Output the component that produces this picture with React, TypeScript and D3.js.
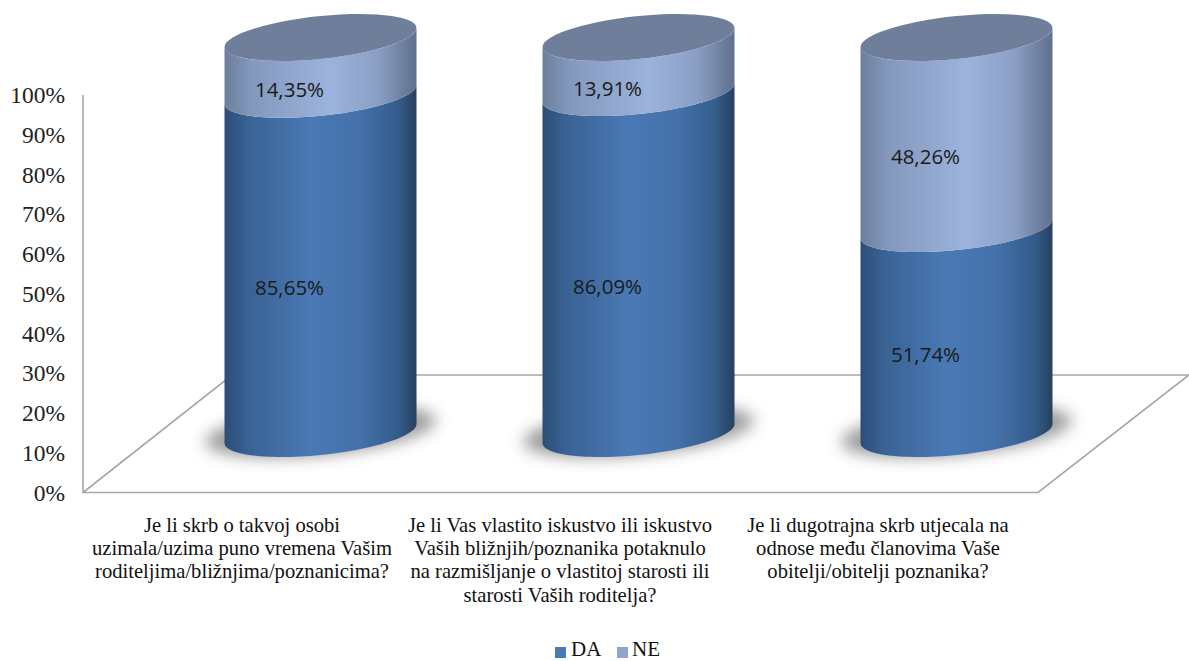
import React from "react";
import * as d3 from "d3";

const categories = ["q1", "q2", "q3"];
const categoryLines = [
  ["Je li skrb o takvoj osobi", "uzimala/uzima puno vremena Vašim", "roditeljima/bližnjima/poznanicima?"],
  ["Je li Vas vlastito iskustvo ili iskustvo", "Vaših bližnjih/poznanika potaknulo", "na razmišljanje o vlastitoj starosti ili", "starosti Vaših roditelja?"],
  ["Je li dugotrajna skrb utjecala na", "odnose među članovima Vaše", "obitelji/obitelji poznanika?"],
];
const da = [85.65, 86.09, 51.74];
const ne = [14.35, 13.91, 48.26];
const ticks = [0, 10, 20, 30, 40, 50, 60, 70, 80, 90, 100];
const fmt = (v: number) => v.toFixed(2).replace(".", ",") + "%";

const W = 1189, H = 661;
const cx = d3.scalePoint<string>().domain(categories).range([320.5, 956.5]);
const edgeY = d3.scaleLinear().domain([0, 100]).range([443, 47]);
const axisY = d3.scaleLinear().domain([0, 100]).range([492.5, 95]);
const R = 96, SK = 9.5, B = 21.5;

// point on the tilted rim whose left tangent point sits at (c-R, yLeft)
const rim = (c: number, yLeft: number, t: number): [number, number] => [
  c + R * Math.cos(t),
  yLeft - SK + B * Math.sin(t) - SK * Math.cos(t),
];
const arcPts = (c: number, yLeft: number, from: number, to: number) =>
  d3.range(0, 61).map((i) => rim(c, yLeft, from + ((to - from) * i) / 60));
const line = d3.line();

const bandPath = (c: number, yLow: number, yHigh: number) => {
  const low = arcPts(c, yLow, Math.PI, 0);
  const high = arcPts(c, yHigh, 0, Math.PI);
  return line([...low, ...high])! + "Z";
};
const capPath = (c: number, yLeft: number) => line(arcPts(c, yLeft, 0, Math.PI * 2))! + "Z";

const GRID = "#a6a6a6";

export default function App() {
  return (
    <svg width={W} height={H} style={{ position: "absolute", left: 0, top: 0, background: "#fff" }}>
      <defs>
        <linearGradient id="daG" x1="0" x2="1" y1="0" y2="0">
          <stop offset="0" stopColor="#2c4d77" />
          <stop offset="0.12" stopColor="#3a6294" />
          <stop offset="0.45" stopColor="#4a79b5" />
          <stop offset="0.7" stopColor="#4471aa" />
          <stop offset="0.9" stopColor="#345d8c" />
          <stop offset="1" stopColor="#27405f" />
        </linearGradient>
        <linearGradient id="neG" x1="0" x2="1" y1="0" y2="0">
          <stop offset="0" stopColor="#6c7e9b" />
          <stop offset="0.14" stopColor="#8398bd" />
          <stop offset="0.55" stopColor="#9cb3dc" />
          <stop offset="0.8" stopColor="#8b9fc5" />
          <stop offset="1" stopColor="#5f708c" />
        </linearGradient>
        <filter id="sh" x="-20%" y="-50%" width="140%" height="200%">
          <feGaussianBlur stdDeviation="6.5" />
        </filter>
      </defs>

      <g fill="none" stroke={GRID} strokeWidth={1.6}>
        <path d={line([[83, axisY(100)], [83, axisY(0)], [1038, axisY(0)], [1189, 375], [232, 375], [83, axisY(0)]])!} />
      </g>

      {ticks.map((t) => (
        <text key={t} x={65} y={axisY(t)} dy="0.35em" textAnchor="end"
          fontFamily="'Liberation Serif', serif" fontSize={23.5} fill="#222">{t}%</text>
      ))}

      {categories.map((k, i) => {
        const c = cx(k)!;
        const yDa = edgeY(da[i]);
        const yTop = edgeY(da[i] + ne[i]);
        return (
          <g key={k}>
            <path d={capPath(c, edgeY(0))} transform="translate(0,-2)" fill="#5a5a5a" opacity={0.6} filter="url(#sh)"
              style={{ transformBox: "fill-box", transformOrigin: "center", scale: "1.2 1.12" } as any} />
            <path d={bandPath(c, edgeY(0), yDa)} fill="url(#daG)" />
            <path d={bandPath(c, yDa, yTop)} fill="url(#neG)" />
            <path d={capPath(c, yTop)} fill="#6f7f9b" />
            <text x={c - 31} y={(edgeY(0) + yDa) / 2 + 14} dy="0.35em" textAnchor="middle"
              fontFamily="'Open Sans', sans-serif" fontSize={20.5} fill="#1a1a1a">{fmt(da[i])}</text>
            <text x={c - 31} y={(yDa + yTop) / 2 + 14} dy="0.35em" textAnchor="middle"
              fontFamily="'Open Sans', sans-serif" fontSize={20.5} fill="#1a1a1a">{fmt(ne[i])}</text>
            {categoryLines[i].map((l, j) => (
              <text key={j} x={c - 78.5} y={532 + j * 23.2} textAnchor="middle"
                fontFamily="'Liberation Serif', serif" fontSize={20.6} fill="#111">{l}</text>
            ))}
          </g>
        );
      })}

      <rect x={555} y={647} width={11} height={11} fill="#4a79b5" />
      <text x={571} y={656.3} fontFamily="'Liberation Serif', serif" fontSize={21} fill="#111">DA</text>
      <rect x={617} y={647} width={11} height={11} fill="#8fa5d0" />
      <text x={632} y={656.3} fontFamily="'Liberation Serif', serif" fontSize={21} fill="#111">NE</text>
    </svg>
  );
}
